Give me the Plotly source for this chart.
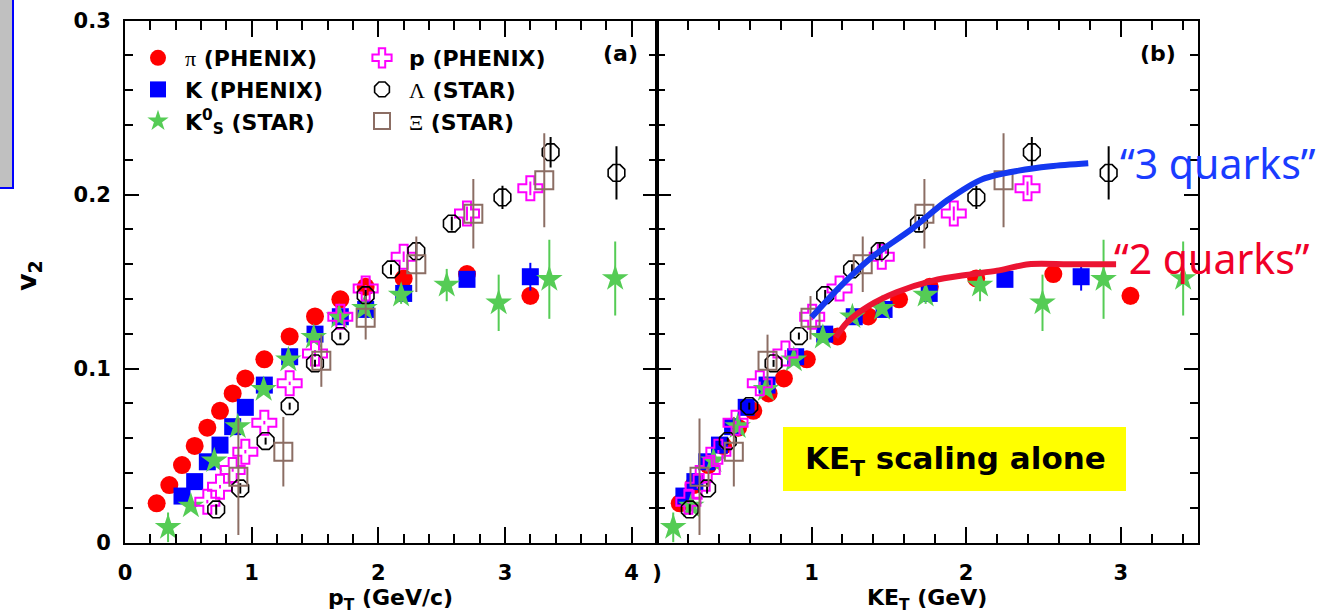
import plotly.graph_objects as go

# ---------------- data ----------------
pi_pt = [0.25, 0.35, 0.45, 0.55, 0.65, 0.75, 0.85, 0.95, 1.1, 1.3, 1.5, 1.7, 1.9, 2.2, 2.7, 3.2]
pi_ket = [0.147, 0.237, 0.332, 0.428, 0.525, 0.623, 0.722, 0.821, 0.969, 1.168, 1.367, 1.566, 1.765, 2.065, 2.564, 3.063]
pi_v2 = [0.0225, 0.033, 0.0445, 0.0555, 0.066, 0.0757, 0.0857, 0.0943, 0.1053, 0.1185, 0.130, 0.1398, 0.147, 0.1518, 0.1543, 0.1418]
pi_err = [0.001, 0.001, 0.001, 0.001, 0.001, 0.001, 0.001, 0.001, 0.001, 0.001, 0.001, 0.001, 0.002, 0.002, 0.003, 0.005]

k_pt = [0.45, 0.55, 0.65, 0.75, 0.85, 0.95, 1.1, 1.3, 1.5, 1.7, 1.9, 2.2, 2.7, 3.2]
k_ket = [0.174, 0.245, 0.322, 0.404, 0.489, 0.577, 0.712, 0.897, 1.085, 1.276, 1.469, 1.761, 2.251, 2.744]
k_v2 = [0.0267, 0.035, 0.0464, 0.056, 0.0666, 0.0777, 0.0905, 0.1068, 0.1198, 0.1298, 0.134, 0.1432, 0.1513, 0.1528]
k_err = [0.001, 0.001, 0.001, 0.001, 0.001, 0.001, 0.001, 0.001, 0.002, 0.002, 0.002, 0.003, 0.004, 0.008]

ks_pt = [0.34, 0.52, 0.705, 0.89, 1.095, 1.29, 1.49, 1.69, 1.89, 2.18, 2.54, 2.95, 3.35, 3.87]
ks_ket = [0.105, 0.222, 0.365, 0.522, 0.705, 0.885, 1.073, 1.264, 1.456, 1.738, 2.090, 2.494, 2.889, 3.404]
ks_v2 = [0.0087, 0.021, 0.047, 0.0666, 0.088, 0.105, 0.118, 0.1298, 0.1346, 0.1422, 0.148, 0.1378, 0.1513, 0.1518]
ks_err = [0.0085, 0.002, 0.002, 0.002, 0.002, 0.002, 0.002, 0.003, 0.003, 0.005, 0.0093, 0.0162, 0.0227, 0.0213]

p_pt = [0.65, 0.75, 0.85, 0.95, 1.1, 1.3, 1.5, 1.7, 1.9, 2.2, 2.7, 3.2]
p_ket = [0.203, 0.263, 0.328, 0.397, 0.508, 0.665, 0.831, 1.004, 1.181, 1.454, 1.920, 2.397]
p_v2 = [0.0235, 0.032, 0.0417, 0.0522, 0.0689, 0.0915, 0.1087, 0.1298, 0.146, 0.1643, 0.1892, 0.2036]
p_err = [0.001, 0.001, 0.001, 0.001, 0.001, 0.001, 0.002, 0.002, 0.002, 0.003, 0.004, 0.004]

lam_pt = [0.72, 0.91, 1.11, 1.30, 1.50, 1.70, 1.90, 2.10, 2.30, 2.58, 2.98, 3.36, 3.88]
lam_ket = [0.212, 0.324, 0.458, 0.597, 0.754, 0.918, 1.088, 1.262, 1.441, 1.695, 2.066, 2.425, 2.922]
lam_v2 = [0.019, 0.0311, 0.0583, 0.0784, 0.103, 0.1187, 0.1422, 0.157, 0.1675, 0.1834, 0.1984, 0.2244, 0.2125]
lam_err = [0.003, 0.003, 0.002, 0.002, 0.002, 0.002, 0.003, 0.003, 0.005, 0.004, 0.0067, 0.0088, 0.0153]

xi_pt = [0.895, 1.25, 1.55, 1.90, 2.30, 2.75, 3.31]
xi_ket = [0.275, 0.497, 0.715, 0.993, 1.331, 1.730, 2.242]
xi_v2 = [0.0378, 0.0522, 0.1045, 0.1292, 0.160, 0.189, 0.2083]
xi_err = [0.0335, 0.020, 0.015, 0.0125, 0.016, 0.020, 0.027]

# hand-drawn quark-number curves on panel (b)
curve3_ket = [1.00, 1.18, 1.39, 1.645, 1.876, 2.108, 2.34, 2.547, 2.79]
curve3_v2 = [0.1295, 0.1467, 0.164, 0.180, 0.1966, 0.209, 0.2138, 0.2163, 0.218]
curve2_ket = [1.156, 1.23, 1.369, 1.55, 1.786, 2.015, 2.2, 2.405, 2.66, 2.97]
curve2_v2 = [0.118, 0.1266, 0.136, 0.1439, 0.1506, 0.154, 0.1563, 0.160, 0.160, 0.160]

x_ticks_a = [0, 1, 2, 3, 4]
x_ticks_b = [0, 1, 2, 3]
x_ticktext_b = [")", "1", "2", "3"]
y_ticks = [0, 0.1, 0.2, 0.3]
y_ticktext = ["0", "0.1", "0.2", "0.3"]

# ---------------- styling ----------------
W, H = 1334, 615
BF = "DejaVu Sans"
RED = "#ff0000"
BLUE = "#0000ff"
GREEN = "#55cc55"
MAG = "#ff00ff"
BLACK = "#000000"
BROWN = "#8c6e64"


def px(xp):
    return xp / W


def py(yp):
    return 1 - yp / H


series = [
    dict(name='<span style="font-family:Liberation Serif;font-weight:normal">π</span> (PHENIX)',
         pt=pi_pt, ket=pi_ket, v2=pi_v2, err=pi_err, color=RED,
         marker=dict(symbol="circle", size=18, color=RED), legend="legend"),
    dict(name="K (PHENIX)", pt=k_pt, ket=k_ket, v2=k_v2, err=k_err, color=BLUE,
         marker=dict(symbol="square", size=17, color=BLUE), legend="legend"),
    dict(name="K<sup>0</sup><sub>S</sub> (STAR)", pt=ks_pt, ket=ks_ket, v2=ks_v2, err=ks_err, color=GREEN,
         marker=dict(symbol="star", size=20, color=GREEN), legend="legend"),
    dict(name="p (PHENIX)", pt=p_pt, ket=p_ket, v2=p_v2, err=p_err, color=MAG,
         marker=dict(symbol="cross-open", size=20, color=MAG, line=dict(width=2, color=MAG)), legend="legend2"),
    dict(name='<span style="font-family:Liberation Serif;font-weight:normal">Λ</span> (STAR)',
         pt=lam_pt, ket=lam_ket, v2=lam_v2, err=lam_err, color=BLACK,
         marker=dict(symbol="octagon-open", size=18, color=BLACK, line=dict(width=1.6, color=BLACK)), legend="legend2"),
    dict(name='<span style="font-family:Liberation Serif;font-weight:normal">Ξ</span> (STAR)',
         pt=xi_pt, ket=xi_ket, v2=xi_v2, err=xi_err, color=BROWN,
         marker=dict(symbol="square-open", size=18, color=BROWN, line=dict(width=2, color=BROWN)), legend="legend2"),
]

fig = go.Figure()

for s in series:
    for xkey, xa, ya in (("pt", "x", "y"), ("ket", "x2", "y2")):
        fig.add_trace(go.Scatter(
            x=s[xkey], y=s["v2"], xaxis=xa, yaxis=ya, mode="markers",
            marker=s["marker"],
            error_y=dict(type="data", array=s["err"], color=s["color"], thickness=2, width=0),
            showlegend=False, hoverinfo="skip"))

# legend-only entries
for s in series:
    fig.add_trace(go.Scatter(
        x=[None], y=[None], mode="markers", marker=s["marker"], name=s["name"],
        legend=s["legend"], legendgroup=s["name"], showlegend=True))

fig.add_trace(go.Scatter(x=curve3_ket, y=curve3_v2, xaxis="x2", yaxis="y2", mode="lines",
                         line=dict(color="#1438f0", width=6, shape="spline", smoothing=0.8),
                         showlegend=False, hoverinfo="skip"))
fig.add_trace(go.Scatter(x=curve2_ket, y=curve2_v2, xaxis="x2", yaxis="y2", mode="lines",
                         line=dict(color="#eb1432", width=6, shape="spline", smoothing=0.8),
                         showlegend=False, hoverinfo="skip"))

tickfont = dict(family=BF, size=21, color="black", weight="bold")
common_x = dict(showline=True, linecolor="black", linewidth=2, mirror="allticks",
                ticks="inside", ticklen=16, tickwidth=2, tickcolor="black", automargin=False,
                showgrid=False, zeroline=False, tickfont=tickfont, ticklabelstandoff=10,
                minor=dict(ticks="inside", ticklen=9, tickwidth=1.5, tickcolor="black",
                           tickmode="linear", tick0=0, dtick=0.2, showgrid=False))
common_y = dict(showline=True, linecolor="black", linewidth=2, mirror="allticks",
                ticks="inside", ticklen=14, tickwidth=2, tickcolor="black", automargin=False,
                showgrid=False, zeroline=False, tickfont=tickfont,
                range=[0, 0.3], domain=[1 - 542.5 / H, 1 - 20.7 / H],
                tickmode="array", tickvals=y_ticks, ticktext=y_ticktext,
                minor=dict(ticks="inside", ticklen=8, tickwidth=1.5, tickcolor="black",
                           tickmode="linear", tick0=0, dtick=0.02, showgrid=False))

legend_common = dict(xanchor="left", yanchor="top", bgcolor="rgba(0,0,0,0)",
                     font=dict(family=BF, size=22, color="black", weight="bold"),
                     tracegroupgap=0, itemwidth=44, traceorder="grouped", orientation="v")

fig.update_layout(
    width=W, height=H, margin=dict(l=0, r=0, t=0, b=0, pad=0, autoexpand=False),
    paper_bgcolor="white", plot_bgcolor="white",
    xaxis=dict(domain=[px(125), px(657)], range=[0, 4.2], anchor="y",
               tickmode="array", tickvals=x_ticks_a, ticktext=[str(v) for v in x_ticks_a], **common_x),
    yaxis=dict(anchor="x", ticklabelstandoff=8, **common_y),
    xaxis2=dict(domain=[px(657), px(1198)], range=[0, 3.5], anchor="y2",
                tickmode="array", tickvals=x_ticks_b, ticktext=x_ticktext_b, **common_x),
    yaxis2=dict(anchor="x2", showticklabels=False, **common_y),
    legend=dict(x=px(131), y=py(37), **legend_common),
    legend2=dict(x=px(355), y=py(37), **legend_common),
    showlegend=True,
)

anns = [
    dict(text="<b>(a)</b>", x=px(620), y=py(54), font=dict(family=BF, size=22, color="black")),
    dict(text="<b>(b)</b>", x=px(1158), y=py(54), font=dict(family=BF, size=22, color="black")),
    dict(text="<b>p<sub>T</sub> (GeV/c)</b>", x=px(391), y=py(599), font=dict(family=BF, size=22, color="black")),
    dict(text="<b>KE<sub>T</sub> (GeV)</b>", x=px(927), y=py(599), font=dict(family=BF, size=22, color="black")),
    dict(text="<b>v<sub>2</sub></b>", x=px(28), y=py(276), textangle=-90, font=dict(family=BF, size=27, color="black")),
    dict(text="“3 quarks”", x=px(1118), y=py(163), xanchor="left", font=dict(family="Noto Sans", size=41, color="#1a3cff")),
    dict(text="“2 quarks”", x=px(1112), y=py(258), xanchor="left", font=dict(family="Noto Sans", size=41, color="#f00028")),
    dict(text="<b>KE<sub>T</sub> scaling alone</b>", x=px(955), y=py(460), font=dict(family=BF, size=31, color="black")),
]
for a in anns:
    a.setdefault("xanchor", "center")
    fig.add_annotation(xref="paper", yref="paper", showarrow=False, yanchor="middle", **a)

fig.add_shape(type="rect", xref="paper", yref="paper", x0=px(783), x1=px(1126), y0=py(491), y1=py(427),
              fillcolor="#ffff00", line=dict(width=0), layer="below")
fig.add_shape(type="rect", xref="paper", yref="paper", x0=-0.01, x1=px(13), y0=py(188), y1=1.01,
              fillcolor="#c0c0c0", line=dict(width=2, color="#0000ff"), layer="above")

post = (
    "document.documentElement.style.margin='0';"
    "document.body.style.margin='0';document.body.style.padding='0';"
    "document.documentElement.style.overflow='hidden';document.body.style.overflow='hidden';"
    "var gd=document.getElementsByClassName('plotly-graph-div')[0];"
    "gd.style.position='fixed';gd.style.left='0px';gd.style.top='0px';"
)
fig.write_html("out.html", config={"displayModeBar": False}, post_script=post)
